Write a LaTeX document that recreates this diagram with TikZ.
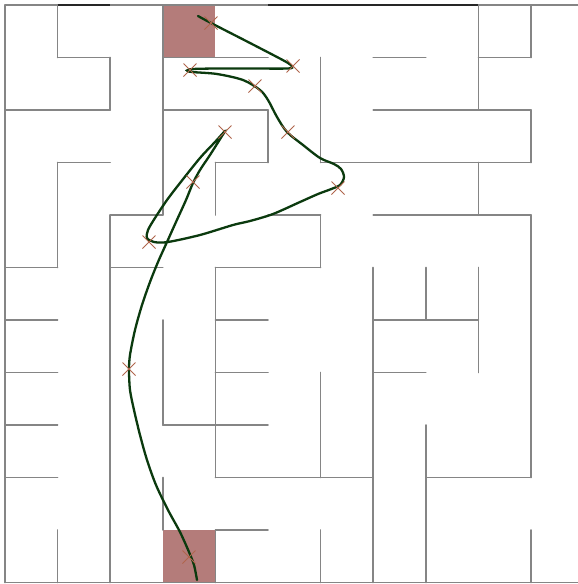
\documentclass[tikz,border=0pt]{standalone}
\usetikzlibrary{shapes.misc}
\definecolor{wallgray}{HTML}{858585}
\definecolor{cellred}{HTML}{B47C7A}
\definecolor{curvegreen}{HTML}{0B3A0E}
\definecolor{xcol}{HTML}{B0654C}
\begin{document}
\begin{tikzpicture}[x=1pt,y=-1pt,
  wall/.style={draw=wallgray,line width=1.6pt,line cap=round},
  darkwall/.style={draw=black!85,line width=1.6pt},
  goalcell/.style={fill=cellred,draw=none},
  solcurve/.style={draw=curvegreen,line width=2.3pt,line cap=round},
  xmark/.style={cross out,draw=xcol,line width=1pt,minimum size=12pt,inner sep=0pt}]
\useasboundingbox (0,0) rectangle (578,584);
\clip (0,0) rectangle (578,584);
\fill[white] (0,0) rectangle (578,584);
% start and end cells
\path[goalcell] ({5+52.6*3},{5}) rectangle ({5+52.6*4},{5+52.5*1});
\path[goalcell] ({5+52.6*3},{5+52.5*10}) rectangle ({5+52.6*4},{5+52.5*11});
% borders
\draw[wall] (5,5) -- (590,5);
\draw[wall] (5,{5+52.5*11}) -- (590,{5+52.5*11});
\draw[wall] (5,5) -- (5,{5+52.5*11});
\draw[darkwall] ({5+52.6*1},5) -- ({5+52.6*2},5);
\draw[darkwall] ({5+52.6*5},5) -- ({5+52.6*9},5);
% horizontal walls: row / from col / to col
\foreach \j/\a/\b in {1/1/2,1/3/5,1/7/8,1/9/10,
  2/0/2,2/3/5,2/7/10,
  3/1/2,3/4/5,3/6/10,
  4/2/3,4/5/6,4/7/10,
  5/0/1,5/2/3,5/4/6,
  6/0/1,6/4/5,6/7/9,
  7/0/1,7/4/5,7/7/8,
  8/0/1,8/3/5,
  9/0/1,9/4/7,9/8/10,
  10/4/5}
  \draw[wall] ({5+52.6*\a},{5+52.5*\j}) -- ({5+52.6*\b},{5+52.5*\j});
% vertical walls: col / from row / to row
\foreach \i/\a/\b in {1/0/1,1/3/5,1/10/11,
  2/1/2,2/4/11,
  3/0/4,3/6/8,3/9/10,
  4/3/4,4/5/9,4/10/11,
  5/2/3,
  6/1/3,6/4/5,6/7/9,6/10/11,
  7/5/11,
  8/5/6,8/8/11,
  9/0/2,9/3/4,9/5/7,
  10/0/1,10/2/3,10/4/9,10/10/11}
  \draw[wall] ({5+52.6*\i},{5+52.5*\a}) -- ({5+52.6*\i},{5+52.5*\b});
% solution curve
\draw[solcurve] plot[smooth,tension=0.5] coordinates {
 (198,16) (211,23) (250,43) (277,57) (288,63) (292,66.5) (288,68.5) (250,68.5)
 (217,68.5) (193,69) (187,70.5) (192,72) (217,74) (243,80) (260,90) (268,100)
 (277,117) (287,132) (303,145) (320,158) (334,164) (341,169) (344,177) (340,185)
 (330,189.5) (318,194) (300,202) (273,214) (250,221) (233,225) (200,235) (168,242)
 (154,242) (147,238) (148,230) (155,218) (167,200) (180,183) (200,158) (215,142)
 (225,131) (222,136) (210,155) (200,170) (193,183) (186,200) (176,222) (167,242)
 (158,262) (150,282) (142,305) (135,330) (130,355) (129,370) (130,390) (134,410)
 (140,435) (147,460) (156,485) (168,510) (180,532) (189,552) (194,565) (197,580)};
% waypoints
\node[xmark] (w1) at (211,23) {};
\node[xmark] (w2) at (293,66) {};
\node[xmark] (w3) at (190,70) {};
\node[xmark] (w4) at (255,86) {};
\node[xmark] (w5) at (288,132) {};
\node[xmark] (w6) at (338,188) {};
\node[xmark] (w7) at (149,242) {};
\node[xmark] (w8) at (225,132) {};
\node[xmark] (w9) at (193,182) {};
\node[xmark] (w10) at (129,369) {};
\node[xmark] (w11) at (189,557) {};
\end{tikzpicture}
\end{document}
